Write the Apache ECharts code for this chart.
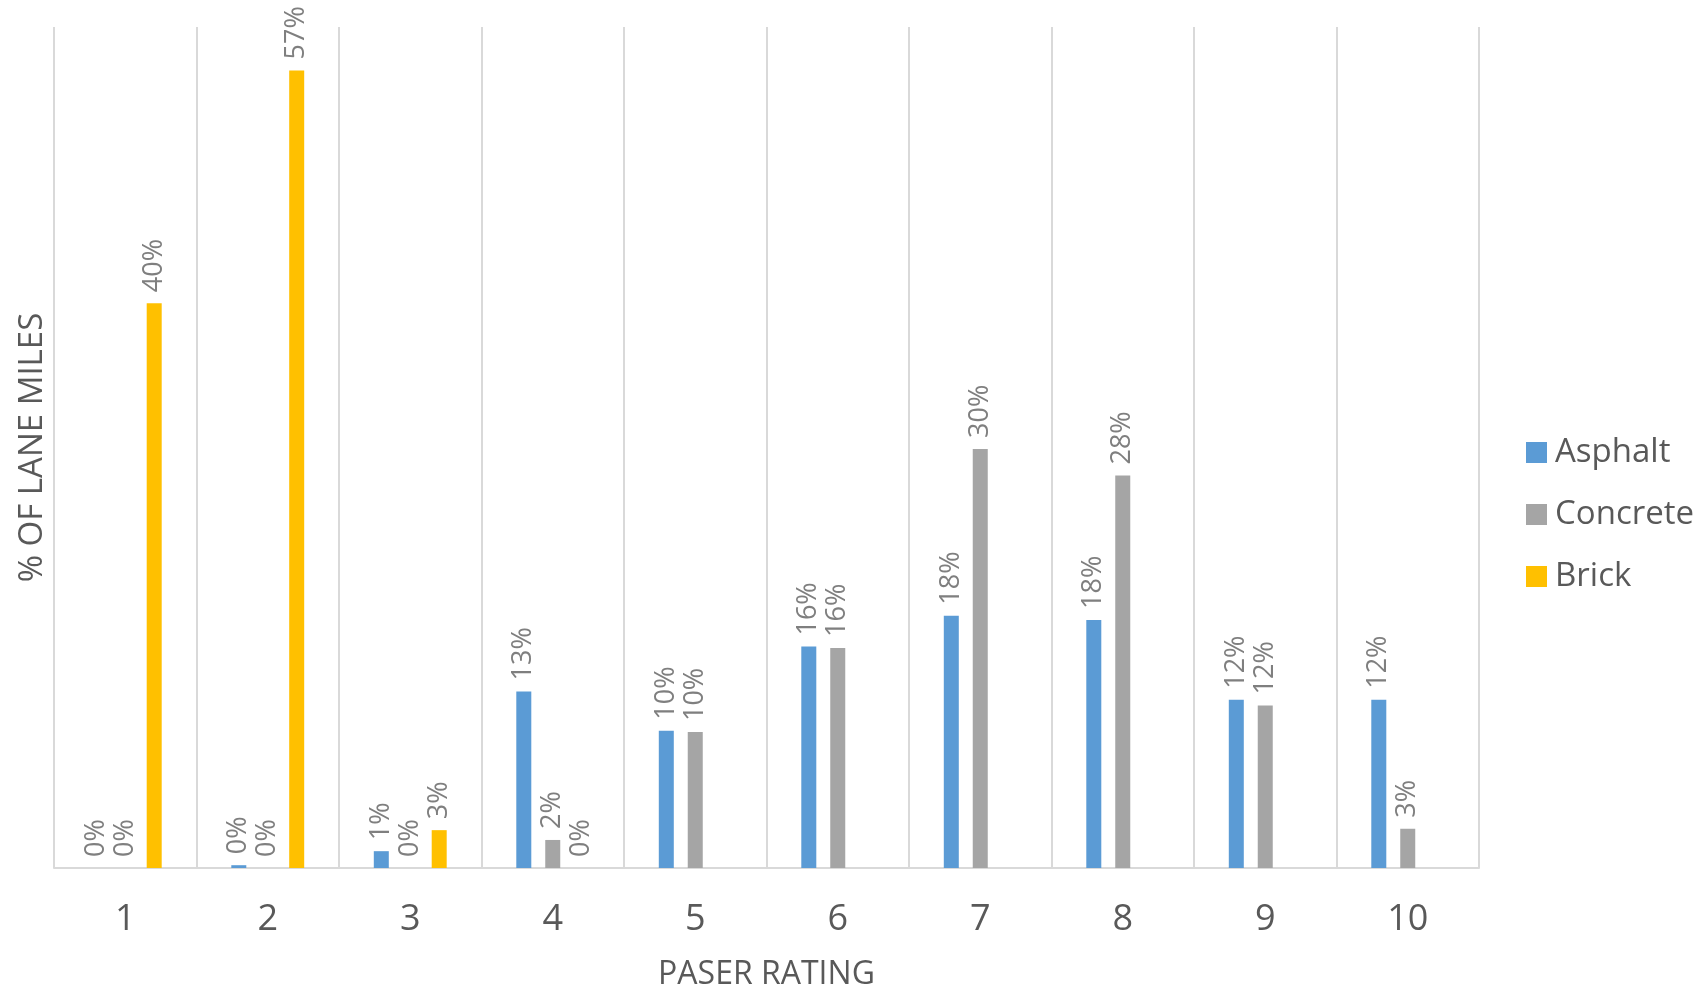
<!DOCTYPE html>
<html>
<head>
<meta charset="utf-8">
<script src="https://cdn.jsdelivr.net/npm/echarts@6/dist/echarts.min.js"></script>
<style>
  html, body { margin: 0; padding: 0; background: #fff; }
  #chart { width: 1700px; height: 987px; }
</style>
</head>
<body>
<div id="chart"></div>
<script>
// PASER ratings on the x axis
const ratings = ['1', '2', '3', '4', '5', '6', '7', '8', '9', '10'];
// share of lane miles per surface type (null = no bar, no label)
const asphalt = [0, 0.002, 0.012, 0.126, 0.098, 0.158, 0.180, 0.177, 0.120, 0.120];
const concrete = [0, 0, 0, 0.020, 0.097, 0.157, 0.299, 0.280, 0.116, 0.028];
const brick = [0.403, 0.569, 0.027, 0, null, null, null, null, null, null];

const font = 'Open Sans';

const chart = echarts.init(document.getElementById('chart'));

const labelStyle = {
  show: true,
  position: 'top',
  rotate: 90,
  align: 'left',
  verticalAlign: 'middle',
  distance: 11,
  color: '#7f7f7f',
  fontFamily: font,
  fontSize: 27,
  formatter: p => (p.value == null ? '' : Math.round(p.value * 100) + '%')
};

const makeSeries = (name, data, color) => ({
  name: name,
  type: 'bar',
  data: data,
  barWidth: 15,
  barGap: '93%',
  itemStyle: { color: color },
  label: labelStyle
});

const option = {
  animation: false,
  backgroundColor: '#fff',
  grid: { left: 54, right: 221, top: 27, bottom: 119, outerBoundsMode: 'none' },
  legend: {
    orient: 'vertical',
    left: 1521,
    top: 431,
    itemWidth: 21,
    itemHeight: 21,
    itemGap: 29,
    icon: 'rect',
    textStyle: {
      color: '#595959',
      fontFamily: font,
      fontSize: 33,
      lineHeight: 32,
      padding: [0, 0, 0, 3]
    },
    data: ['Asphalt', 'Concrete', 'Brick']
  },
  xAxis: {
    type: 'category',
    data: ratings,
    name: 'PASER RATING',
    nameLocation: 'middle',
    nameGap: 91,
    nameTextStyle: { color: '#595959', fontFamily: font, fontSize: 32 },
    axisTick: { show: false },
    axisLine: { lineStyle: { color: '#d9d9d9', width: 2 } },
    axisLabel: { color: '#595959', fontFamily: font, fontSize: 36, margin: 34 },
    splitLine: { show: true, lineStyle: { color: '#d9d9d9', width: 2 } }
  },
  yAxis: {
    type: 'value',
    min: 0,
    max: 0.6,
    name: '% OF LANE MILES',
    nameLocation: 'middle',
    nameGap: 5,
    nameTextStyle: { color: '#595959', fontFamily: font, fontSize: 33 },
    axisLine: { show: false },
    axisTick: { show: false },
    axisLabel: { show: false },
    splitLine: { show: false }
  },
  series: [
    makeSeries('Asphalt', asphalt, '#5b9bd5'),
    makeSeries('Concrete', concrete, '#a5a5a5'),
    makeSeries('Brick', brick, '#ffc000')
  ]
};

chart.setOption(option);
</script>
</body>
</html>
